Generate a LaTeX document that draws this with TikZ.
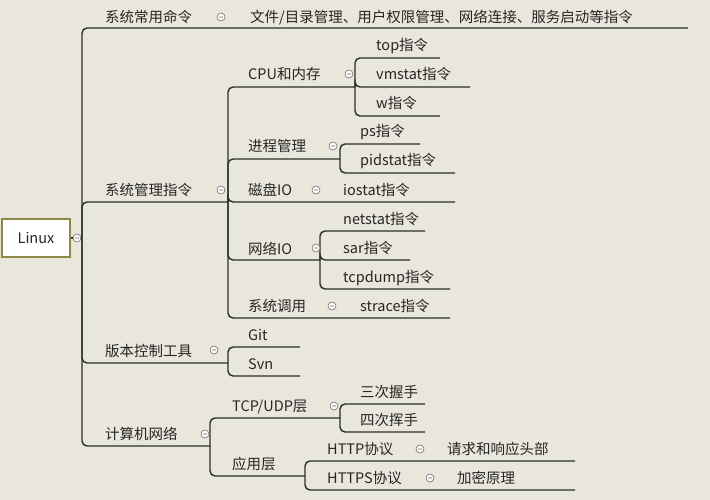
\documentclass[tikz,border=0pt]{standalone}
\usepackage{fontspec}
\setmainfont{Noto Sans CJK SC}
\definecolor{bgcol}{HTML}{E9E6DC}
\definecolor{linecol}{HTML}{26302E}
\definecolor{dotcol}{HTML}{6E706C}
\begin{document}
\begin{tikzpicture}[x=1pt, y=-1pt, every node/.style={font=\fontsize{14.5}{16}\selectfont, text=black!85}]
\tikzset{
  lbl/.style={anchor=base west, inner sep=0pt},
  branch/.style={draw=linecol, line width=1.4pt, rounded corners=5pt},
  fold/.style={draw=dotcol, fill=white!90!bgcol, line width=0.6pt}
}
\fill[bgcol] (0,0) rectangle (710,500);
\useasboundingbox (0,0) rectangle (710,500);
% root
\node[draw=olive!50!gray, fill=white, line width=1.5pt, minimum width=68pt, minimum height=38pt, inner sep=0pt] (linux) at (36,238) {Linux};
\draw[branch] (linux.east) -- (82,238);
% branches: trunk x / parent y / child y / end x
\foreach \tx/\py/\cy/\ex in {82/238/28/688, 82/238/202/228, 82/238/363/228, 82/238/446/210,
  228/202/87/355, 228/202/159/340, 228/202/202/455, 228/202/260/320, 228/202/318/450,
  355/87/58/440, 355/87/87/470, 355/87/116/440,
  340/159/144/420, 340/159/173/455,
  320/260/231/425, 320/260/260/410, 320/260/289/450,
  228/363/347/300, 228/363/376/300,
  210/446/418/340, 210/446/476/305,
  340/418/404/425, 340/418/432/425,
  305/476/461/575, 305/476/490/575}
  \draw[branch] (\tx,\py) -- (\tx,\cy) -- (\ex,\cy);
% labels
\foreach \x/\y/\t [count=\i] in {105/23/系统常用命令, 250/23/{文件/目录管理、用户权限管理、网络连接、服务启动等指令},
  105/196/系统管理指令, 248/80/CPU和内存, 376/51/top指令, 376/80/vmstat指令, 376/109/w指令,
  248/152/进程管理, 360/137/ps指令, 360/166/pidstat指令,
  248/196/磁盘IO, 343/196/iostat指令,
  248/254/网络IO, 343/224/netstat指令, 343/253/sar指令, 343/282/tcpdump指令,
  248/311/系统调用, 360/311/strace指令,
  105/356/版本控制工具, 248/340/Git, 248/369/Svn,
  105/439/计算机网络, 232/411/{TCP/UDP层}, 360/397/三次握手, 360/425/四次挥手,
  232/469/应用层, 327/454/HTTP协议, 447/454/请求和响应头部, 327/483/HTTPS协议, 457/483/加密原理}
  \node[lbl] (t\i) at (\x,\y) {\t};
% fold markers
\foreach \x/\y in {77/238, 221/17, 221/190, 349/74, 333/146, 316/190, 316/248, 332/306,
  214/350, 205/434, 334/406, 420/449, 430/478}
  \draw[fold] (\x,\y) circle (4pt) (\x-2,\y) -- (\x+2,\y);
\end{tikzpicture}
\end{document}
